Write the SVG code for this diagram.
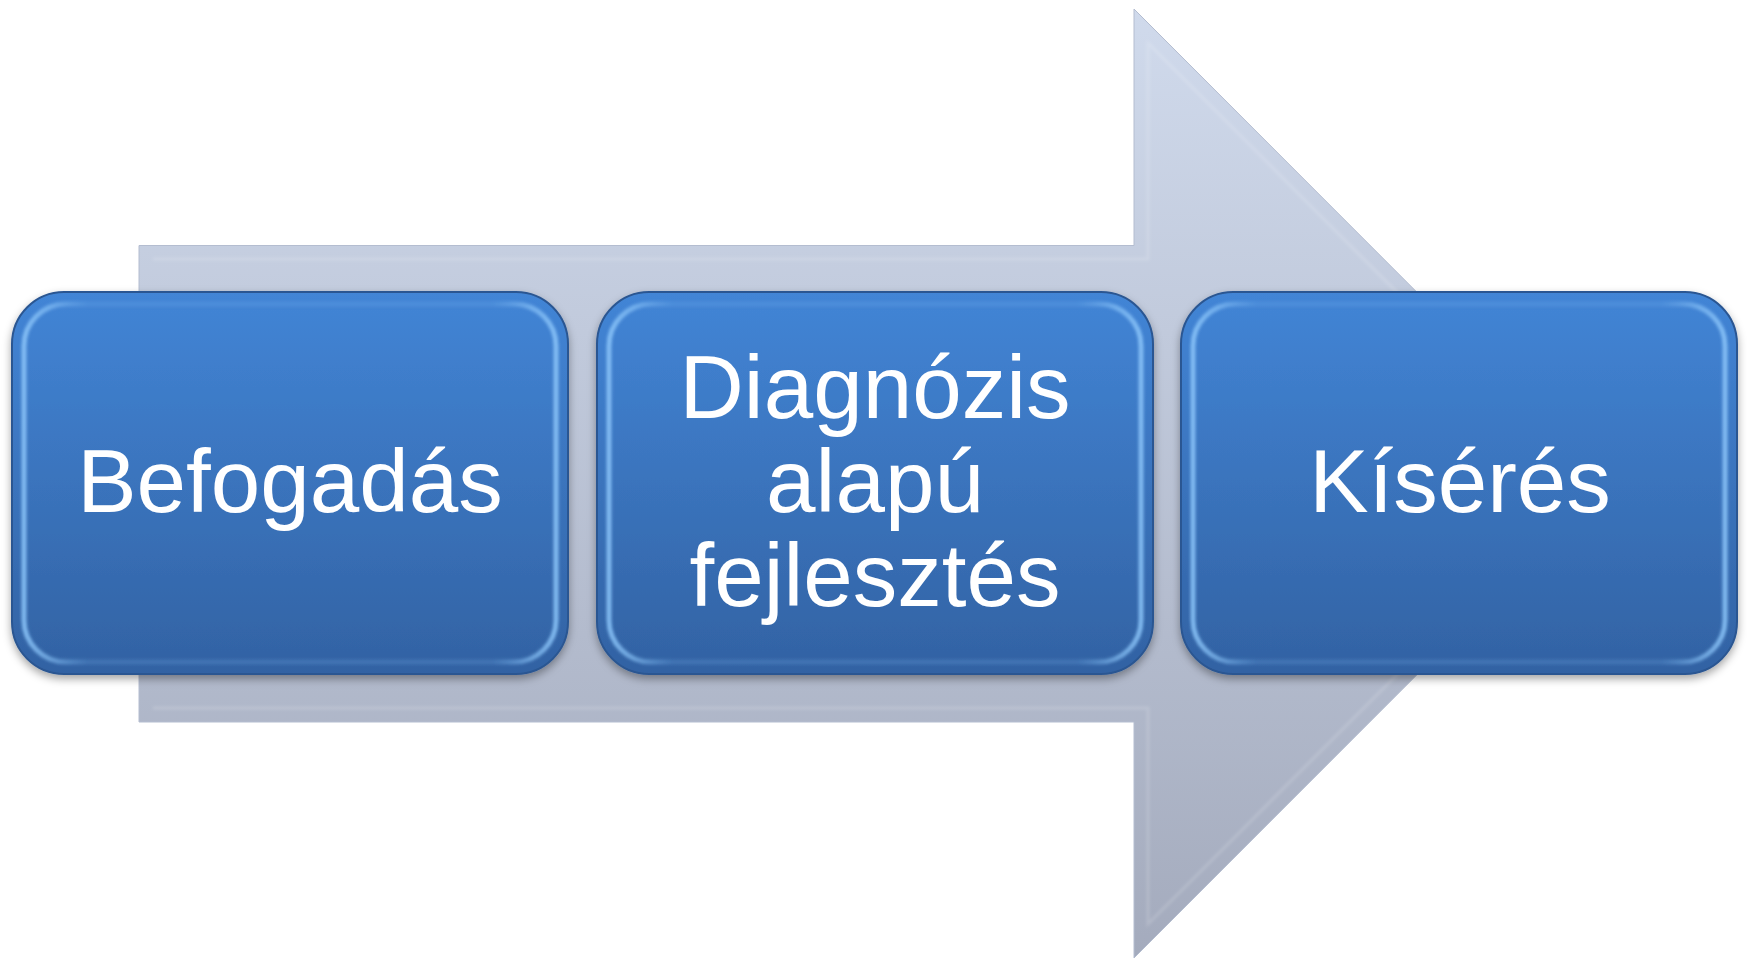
<svg xmlns="http://www.w3.org/2000/svg" width="1747" height="959" viewBox="0 0 1747 959">
<defs>
<linearGradient id="arrowGrad" x1="0" y1="0" x2="0" y2="1">
<stop offset="0" stop-color="#d0daec"/>
<stop offset="1" stop-color="#a4abbd"/>
</linearGradient>
<linearGradient id="boxGrad" x1="0" y1="0" x2="0" y2="1">
<stop offset="0" stop-color="#4285d6"/>
<stop offset="1" stop-color="#3262a3"/>
</linearGradient>
<linearGradient id="hiGrad" x1="0" y1="0" x2="1" y2="0">
<stop offset="0" stop-color="#8cc6fa" stop-opacity="0.85"/>
<stop offset="0.05" stop-color="#8cc6fa" stop-opacity="0.6"/>
<stop offset="0.12" stop-color="#7ab4f0" stop-opacity="0.2"/>
<stop offset="0.88" stop-color="#7ab4f0" stop-opacity="0.2"/>
<stop offset="0.95" stop-color="#8cc6fa" stop-opacity="0.6"/>
<stop offset="1" stop-color="#8cc6fa" stop-opacity="0.85"/>
</linearGradient>
<filter id="shadow" x="-10%" y="-10%" width="120%" height="125%">
<feDropShadow dx="0" dy="4" stdDeviation="4" flood-color="#000" flood-opacity="0.35"/>
</filter>
<filter id="soft" x="-5%" y="-5%" width="110%" height="110%">
<feGaussianBlur stdDeviation="1.5"/>
</filter>
</defs>
<style>
.box{fill:url(#boxGrad);stroke:#2b5792;stroke-width:2}
.hi{fill:none;stroke:url(#hiGrad);stroke-width:5}
.lbl{font-family:"Liberation Sans",Arial,sans-serif;font-size:89px;fill:#ffffff;text-anchor:middle}
</style>
<g id="connectors">
<g id="arrow">
<polygon points="139,245.5 1134,245.5 1134,9 1608,483.5 1134,958 1134,722 139,722" fill="url(#arrowGrad)" stroke="#b4bdd0" stroke-width="1"/>
<polyline points="153,259 1148,259 1148,43 1588,483.5 1148,924 1148,708 153,708" fill="none" stroke="#ffffff" stroke-opacity="0.15" stroke-width="3" filter="url(#soft)"/>
</g>
</g>
<g id="node1" filter="url(#shadow)">
<rect class="box" x="12" y="292" width="556" height="382" rx="52" ry="52"/>
<rect class="hi" x="24" y="304" width="532" height="358" rx="42" ry="42" filter="url(#soft)"/>
<text class="lbl" x="290" y="512">Befogadás</text>
</g>
<g id="node2" filter="url(#shadow)">
<rect class="box" x="597" y="292" width="556" height="382" rx="52" ry="52"/>
<rect class="hi" x="609" y="304" width="532" height="358" rx="42" ry="42" filter="url(#soft)"/>
<text class="lbl" x="875" y="418">Diagnózis</text>
<text class="lbl" x="875" y="512">alapú</text>
<text class="lbl" x="875" y="606">fejlesztés</text>
</g>
<g id="node3" filter="url(#shadow)">
<rect class="box" x="1181" y="292" width="556" height="382" rx="52" ry="52"/>
<rect class="hi" x="1193" y="304" width="532" height="358" rx="42" ry="42" filter="url(#soft)"/>
<text class="lbl" x="1460" y="512">Kísérés</text>
</g>
</svg>
